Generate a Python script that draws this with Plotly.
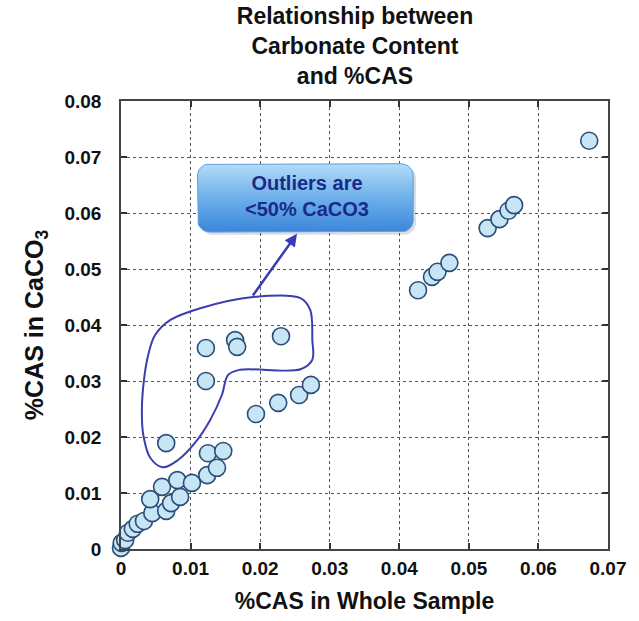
import numpy as np
import plotly.graph_objects as go

# ---------------- data ----------------
cas_whole = [
    0.0000, 0.0001, 0.0006, 0.0010, 0.0017, 0.0024, 0.0033, 0.0045, 0.0065,
    0.0042, 0.0072, 0.0085, 0.0059, 0.0081, 0.0102, 0.0124, 0.0138, 0.0125,
    0.0147, 0.0065, 0.0194, 0.0226, 0.0256, 0.0273,
    0.0122, 0.0122, 0.0164, 0.0167, 0.0230,
    0.0427, 0.0447, 0.0455, 0.0472, 0.0527, 0.0544, 0.0557, 0.0565, 0.0673,
]
cas_caco3 = [
    0.0002, 0.0011, 0.0016, 0.0029, 0.0036, 0.0045, 0.0050, 0.0064, 0.0068,
    0.0089, 0.0082, 0.0093, 0.0111, 0.0123, 0.0118, 0.0132, 0.0145, 0.0171,
    0.0175, 0.0189, 0.0241, 0.0261, 0.0275, 0.0293,
    0.0300, 0.0359, 0.0373, 0.0361, 0.0380,
    0.0462, 0.0486, 0.0495, 0.0511, 0.0573, 0.0589, 0.0604, 0.0614, 0.0729,
]

x_tickvals = [0, 0.01, 0.02, 0.03, 0.04, 0.05, 0.06, 0.07]
x_ticktext = ["0", "0.01", "0.02", "0.03", "0.04", "0.05", "0.06", "0.07"]
y_tickvals = [0, 0.01, 0.02, 0.03, 0.04, 0.05, 0.06, 0.07, 0.08]
y_ticktext = ["0", "0.01", "0.02", "0.03", "0.04", "0.05", "0.06", "0.07", "0.08"]

title_text = "Relationship between<br>Carbonate Content<br>and %CAS"
x_title = "%CAS in Whole Sample"
y_title = "%CAS in CaCO<sub>3</sub>"
callout_text = "Outliers are<br>&lt;50% CaCO3"

# lasso outline around the outliers (data coordinates)
lasso_x = [0.0190, 0.0258, 0.0272, 0.0275, 0.0275, 0.0258, 0.0171, 0.0154,
           0.0145, 0.0128, 0.0106, 0.0082, 0.0060, 0.0042, 0.0032, 0.0030,
           0.0033, 0.0039, 0.0049, 0.0071, 0.0114, 0.0190]
lasso_y = [0.0450, 0.0448, 0.0427, 0.0373, 0.0338, 0.0321, 0.0320, 0.0311,
           0.0275, 0.0230, 0.0189, 0.0159, 0.0146, 0.0163, 0.0204, 0.0248,
           0.0302, 0.0346, 0.0382, 0.0409, 0.0430, 0.0450]

FONT = "Arial, 'Liberation Sans', Helvetica, sans-serif"

fig = go.Figure()


def rounded_rect(x0, x1, y0, y1, rx, ry, n=10):
    xs, ys = [], []
    corners = [
        (x1 - rx, y1 - ry, 0, 90),
        (x0 + rx, y1 - ry, 90, 180),
        (x0 + rx, y0 + ry, 180, 270),
        (x1 - rx, y0 + ry, 270, 360),
    ]
    for cx, cy, a0, a1 in corners:
        t = np.radians(np.linspace(a0, a1, n))
        xs += list(cx + rx * np.cos(t))
        ys += list(cy + ry * np.sin(t))
    xs.append(xs[0])
    ys.append(ys[0])
    return xs, ys


# callout box (shadow + gradient box)
bx0, bx1, by0, by1 = 0.0110, 0.0420, 0.0566, 0.0688
sx, sy = rounded_rect(bx0 + 0.0004, bx1 + 0.0004, by0 - 0.0005, by1 - 0.0005, 0.0018, 0.0021)
fig.add_trace(go.Scatter(x=sx, y=sy, mode="lines", fill="toself",
                         fillcolor="rgba(60,60,90,0.18)", line=dict(width=0),
                         hoverinfo="skip", showlegend=False))
rx_, ry_ = rounded_rect(bx0, bx1, by0, by1, 0.0018, 0.0021)
fig.add_trace(go.Scatter(x=rx_, y=ry_, mode="lines", fill="toself",
                         fillgradient=dict(type="vertical",
                                           colorscale=[[0, "#3a86d9"], [0.55, "#74b4ec"], [1, "#b4dcf8"]]),
                         line=dict(color="#5a9fe0", width=1),
                         hoverinfo="skip", showlegend=False))

# lasso
fig.add_trace(go.Scatter(x=lasso_x, y=lasso_y, mode="lines",
                         line=dict(color="#3d3db0", width=2, shape="spline", smoothing=1.0),
                         hoverinfo="skip", showlegend=False))

# data points
fig.add_trace(go.Scatter(
    x=cas_whole, y=cas_caco3, mode="markers",
    marker=dict(size=17, color="#c6e6f5", line=dict(color="#2d4d78", width=1.6)),
    cliponaxis=False, showlegend=False,
))

axis_common = dict(
    showline=True, linecolor="#444444", linewidth=1.5, mirror="allticks",
    ticks="inside", ticklen=6, tickwidth=1.5, tickcolor="#333333",
    showgrid=True, gridcolor="#555555", griddash="dot", gridwidth=1,
    zeroline=False,
    tickfont=dict(family=FONT, size=19, color="#111111", weight="bold"),
)

fig.update_xaxes(range=[0, 0.07], tickvals=x_tickvals, ticktext=x_ticktext,
                 ticklabelstandoff=1,
                 title=dict(text=x_title, standoff=15,
                            font=dict(family=FONT, size=23, color="#111111", weight="bold")),
                 **axis_common)
fig.update_yaxes(range=[0, 0.08], tickvals=y_tickvals, ticktext=y_ticktext,
                 ticklabelstandoff=14,
                 title=dict(text=y_title, standoff=14,
                            font=dict(family=FONT, size=25, color="#111111", weight="bold")),
                 **axis_common)

# callout text and arrow
fig.add_annotation(x=(bx0 + bx1) / 2 + 0.0002, y=(by0 + by1) / 2 + 0.0003, xref="x", yref="y",
                   text=callout_text, showarrow=False,
                   font=dict(family=FONT, size=20, color="#1a2a8a", weight="bold"),
                   align="center")
fig.add_annotation(x=0.0253, y=0.0563, ax=0.0188, ay=0.0450,
                   xref="x", yref="y", axref="x", ayref="y",
                   text="", showarrow=True, arrowhead=2, arrowsize=1,
                   arrowwidth=2.5, arrowcolor="#3a3ab8")

fig.update_layout(
    width=639, height=621,
    margin=dict(l=121, r=31, t=101, b=72, autoexpand=False),
    paper_bgcolor="white", plot_bgcolor="white",
    title=dict(text=title_text, x=355 / 639, xanchor="center", y=1 - 24 / 621, yanchor="top",
               font=dict(family=FONT, size=23, color="#111111", weight="bold")),
    showlegend=False, hovermode=False,
)

fig.write_html("out.html", config={"displayModeBar": False},
               post_script="document.body.style.margin='0px';document.body.style.padding='0px';")
